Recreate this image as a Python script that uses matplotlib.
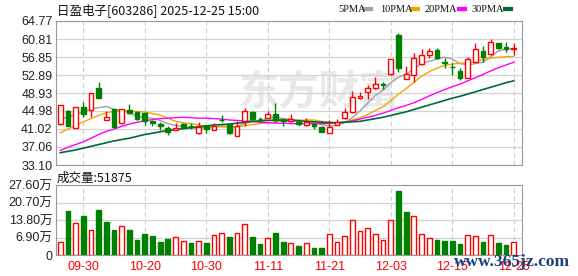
import matplotlib
matplotlib.use("Agg")
import matplotlib.pyplot as plt
from matplotlib.lines import Line2D
import numpy as np

plt.rcParams["font.family"] = ["Liberation Sans", "Noto Sans CJK SC"]

# 日盈电子 daily K line, 2025-09-25 .. 2025-12-25
opens = [42.05, 44.9, 41.2, 45.86, 45.2, 50.0, 43.06, 45.35, 42.27, 45.2,
         44.7, 44.5, 42.8, 42.05, 41.2, 40.8, 42.1, 41.6, 40.07, 41.7,
         40.8, 43.1, 42.05, 39.55, 42.8, 44.7, 43.3, 43.5, 44.25, 42.9,
         42.8, 42.6, 41.9, 42.05, 41.5, 40.2, 41.9, 43.4, 44.7, 47.9,
         49.2, 50.1, 50.8, 53.05, 61.8, 52.1, 52.9, 55.25, 57.3, 58.4,
         55.8, 54.7, 53.8, 52.3, 55.8, 58.2, 57.45, 59.9, 59.1, 58.6]
highs = [46.3, 45.2, 45.8, 47.0, 48.9, 51.4, 44.9, 45.35, 45.5, 46.5,
         44.9, 44.7, 42.9, 42.5, 41.6, 42.3, 42.3, 42.27, 42.5, 41.8,
         42.3, 44.1, 42.2, 42.8, 45.7, 44.9, 43.7, 45.0, 46.7, 43.4,
         44.25, 42.8, 43.4, 42.2, 41.6, 43.0, 43.2, 45.6, 49.4, 49.2,
         50.7, 52.4, 51.3, 56.4, 62.1, 54.95, 57.7, 58.6, 58.8, 58.8,
         56.6, 55.5, 54.4, 56.9, 59.9, 59.3, 60.8, 60.0, 60.2, 59.9]
lows = [41.8, 41.7, 41.2, 43.7, 43.7, 47.9, 43.06, 41.3, 42.2, 44.3,
        43.0, 41.8, 41.7, 40.8, 39.7, 40.7, 41.3, 40.95, 40.0, 40.1,
        40.7, 42.5, 39.85, 39.5, 41.7, 42.8, 42.6, 43.4, 42.6, 41.75,
        42.6, 41.7, 41.7, 41.0, 40.4, 40.05, 41.8, 43.3, 44.5, 47.7,
        47.6, 49.9, 49.8, 53.0, 53.6, 52.0, 51.4, 55.0, 56.6, 56.35,
        54.5, 52.9, 51.8, 52.2, 55.7, 55.8, 57.2, 58.6, 58.0, 57.4]
closes = [46.3, 41.75, 45.8, 44.3, 48.87, 47.9, 43.59, 41.5, 45.48, 44.5,
          43.3, 42.8, 42.3, 41.7, 40.4, 41.3, 41.4, 41.5, 41.52, 41.0,
          41.7, 42.9, 40.2, 41.74, 45.0, 43.2, 43.2, 44.25, 43.0, 42.8,
          43.2, 42.05, 42.5, 41.7, 40.4, 41.5, 42.6, 44.7, 48.1, 48.3,
          50.0, 50.85, 50.7, 56.35, 54.4, 53.05, 56.6, 57.3, 58.2, 56.6,
          55.6, 54.6, 52.2, 56.35, 58.6, 56.9, 60.2, 58.9, 58.55, 58.8]

ma5 = [43.2, 43.6, 44.2, 44.8, 45.4, 45.7, 46.0, 45.3, 45.2, 44.6,
       43.8, 43.5, 43.4, 42.9, 42.2, 41.8, 41.5, 41.3, 41.2, 41.3,
       41.4, 41.7, 41.5, 41.5, 42.3, 42.6, 42.7, 43.4, 43.7, 43.3,
       43.2, 43.0, 42.7, 42.4, 42.0, 41.7, 41.8, 42.4, 43.5, 45.0,
       46.7, 48.4, 49.6, 51.2, 52.4, 53.1, 54.2, 55.5, 55.9, 56.4,
       56.8, 56.4, 55.4, 55.1, 55.4, 55.7, 56.9, 58.2, 58.6, 58.7]
ma10 = [40.2, 41.0, 41.8, 42.6, 43.3, 44.0, 44.6, 44.9, 45.0, 45.0,
        44.8, 44.8, 44.4, 44.1, 43.4, 42.7, 42.4, 42.2, 41.9, 41.6,
        41.5, 41.5, 41.4, 41.4, 41.8, 42.0, 42.2, 42.4, 42.6, 42.8,
        42.9, 42.9, 43.0, 43.0, 42.7, 42.5, 42.4, 42.5, 43.0, 43.5,
        44.2, 45.1, 45.9, 47.3, 48.7, 49.9, 51.3, 52.6, 53.6, 54.4,
        55.0, 55.3, 55.5, 55.5, 55.9, 56.3, 56.6, 56.8, 56.9, 57.0]
ma20 = [36.3, 37.0, 37.6, 38.2, 39.0, 39.8, 40.5, 41.0, 41.6, 42.1,
        42.5, 42.8, 43.1, 43.3, 43.4, 43.5, 43.6, 43.5, 43.4, 43.4,
        43.3, 43.2, 43.0, 42.9, 42.8, 42.7, 42.5, 42.4, 42.3, 42.3,
        42.2, 42.2, 42.2, 42.2, 42.2, 42.3, 42.4, 42.5, 42.8, 43.2,
        43.6, 44.0, 44.5, 45.1, 45.7, 46.2, 46.8, 47.5, 48.3, 49.0,
        49.7, 50.3, 50.9, 51.6, 52.3, 53.0, 53.8, 54.5, 55.1, 55.7]
ma30 = [35.8, 36.1, 36.4, 36.8, 37.2, 37.6, 38.0, 38.4, 38.7, 39.0,
        39.4, 39.8, 40.1, 40.4, 40.7, 40.9, 41.1, 41.3, 41.5, 41.7,
        41.9, 42.0, 42.1, 42.3, 42.5, 42.7, 42.8, 42.9, 43.0, 43.0,
        42.9, 42.8, 42.7, 42.6, 42.5, 42.4, 42.4, 42.5, 42.6, 42.7,
        43.0, 43.3, 43.6, 44.0, 44.4, 44.8, 45.3, 45.8, 46.3, 46.8,
        47.3, 47.8, 48.2, 48.7, 49.2, 49.7, 50.2, 50.7, 51.2, 51.6]

# volume in 万手, colour by close vs previous close
volume = [5.0, 17.3, 12.5, 15.4, 9.9, 17.7, 13.0, 9.9, 11.3, 9.9,
          5.9, 8.3, 7.5, 5.1, 6.3, 7.0, 5.4, 4.6, 5.4, 4.6,
          7.8, 8.8, 7.0, 8.6, 12.1, 7.0, 4.3, 6.6, 8.6, 5.0,
          4.6, 3.5, 4.6, 2.8, 2.8, 8.1, 5.0, 7.6, 13.7, 9.3,
          10.5, 8.1, 5.9, 13.7, 25.2, 17.0, 15.2, 8.1, 6.6, 5.9,
          5.5, 5.5, 4.3, 7.8, 7.4, 5.1, 7.8, 4.7, 3.9, 5.19]
vol_up = "RGRGRGGGRGGGGGGRRGRGRRGRRGGRGGRGRGGRRRRRRRRRGGRRRGGGGRRGRGGR"

price_ticks = [33.10, 37.06, 41.02, 44.98, 48.93, 52.89, 56.85, 60.81, 64.77]
vol_ticks = [0, 6.9, 13.8, 20.7, 27.6]
vol_labels = ["0", "6.90万", "13.80万", "20.70万", "27.60万"]
date_pos = [3, 11, 19, 27, 35, 43, 51, 59]
date_labels = ["09-30", "10-20", "10-30", "11-11", "11-21", "12-03", "12-15", "12-25"]

RED = "#ff0000"
GREEN = "#008000"
GRID = "#d3d3d3"
SPINE = "#999999"

W, H = 578, 276
fig = plt.figure(figsize=(W / 100, H / 100), dpi=100)
ax = fig.add_axes([56 / W, 1 - 165 / H, 466 / W, 144 / H])
axv = fig.add_axes([56 / W, 1 - 255 / H, 466 / W, 70 / H])

x = np.arange(len(closes))
o = np.array(opens)
c = np.array(closes)
hi = np.array(highs)
lo = np.array(lows)
top = np.maximum(o, c)
bot = np.minimum(o, c)
up = c >= o
col = np.where(up, RED, GREEN)

# watermark
ax.text(0.565, 0.5, "东方财富", transform=ax.transAxes, ha="center", va="center",
        fontsize=29, fontweight="bold", color="#e8e8e8", family=["Noto Sans CJK SC"],
        zorder=0)

ax.vlines(x, lo, bot, colors=col, lw=1, zorder=3)
ax.vlines(x, top, hi, colors=col, lw=1, zorder=3)
body = np.maximum(top - bot, 0.12)
ax.bar(x, body, bottom=bot, width=0.62, facecolor=np.where(up, "white", GREEN),
       edgecolor=col, linewidth=1, zorder=4)

ax.plot(x, ma5, color="#a0a0a0", lw=1, zorder=2)
ax.plot(x, ma10, color="#f5a300", lw=1, zorder=2)
ax.plot(x, ma20, color="#ff00ff", lw=1, zorder=2)
ax.plot(x, ma30, color="#006a35", lw=1.2, zorder=2)

vcol = [RED if v == "R" else GREEN for v in vol_up]
vface = ["white" if v == "R" else GREEN for v in vol_up]
axv.bar(x, volume, width=0.62, facecolor=vface, edgecolor=vcol, linewidth=1, zorder=3)

for a in (ax, axv):
    a.set_xlim(-0.55, 60.07)
    a.set_xticks(date_pos)
    a.grid(axis="x", color="#cccccc", ls=(0, (4, 3)), lw=0.8)
    a.grid(axis="y", color=GRID, ls="-", lw=0.9)
    a.set_axisbelow(True)
    for s in a.spines.values():
        s.set_color(SPINE)
    a.tick_params(length=0, colors="#222222", labelsize=9, pad=2.5)

ax.set_ylim(price_ticks[0], price_ticks[-1])
ax.set_yticks(price_ticks)
ax.set_yticklabels([f"{t:.2f}" for t in price_ticks])
ax.set_xticklabels([])

axv.set_ylim(0, 27.6)
axv.set_yticks(vol_ticks)
axv.set_yticklabels(vol_labels)
axv.set_xticklabels(date_labels, color=RED)
axv.tick_params(axis="x", pad=4)

fig.text(57 / W, 1 - 10 / H, "日盈电子[603286] 2025-12-25 15:00", ha="left", va="center",
         fontsize=9, color="#111111", family=["Noto Sans CJK SC"])
fig.text(57 / W, 1 - 178 / H, "成交量:51875", ha="left", va="center",
         fontsize=9, color="#111111", family=["Noto Sans CJK SC"])

legend = [("5PMA", 338, 365, "#a0a0a0"), ("10PMA", 380, 412, "#f5a300"),
          ("20PMA", 425, 459, "#ff00ff"), ("30PMA", 471, 505, "#006a35")]
for name, tx, bx, lc in legend:
    fig.text(tx / W, 1 - 9 / H, name, ha="left", va="center", fontsize=7.5,
             family=["Liberation Serif"], color="#111111")
    fig.add_artist(Line2D([bx / W, (bx + 6) / W], [1 - 9 / H, 1 - 9 / H],
                          color=lc, lw=3, transform=fig.transFigure))

# site watermark over the bottom right corner, as in the source image
fig.text(454 / W, 1 - 262 / H, "www.365jz.com", ha="left", va="center",
         fontsize=12.5, fontweight="bold", family=["Liberation Serif"], color="#1c3f7a")

fig.savefig("out.png", dpi=100, facecolor="white")
